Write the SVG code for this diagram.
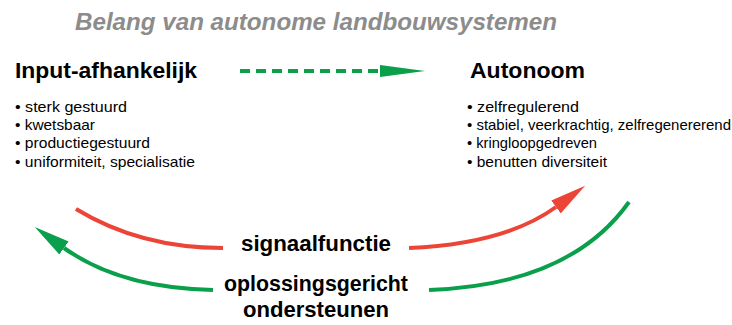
<svg xmlns="http://www.w3.org/2000/svg" width="732" height="325" viewBox="0 0 732 325">
<defs>
<style>
.title{font-family:"Liberation Sans",Arial,sans-serif;font-weight:bold;font-style:italic;font-size:23px;fill:#8c8c8c}
.head{font-family:"Liberation Sans",Arial,sans-serif;font-weight:bold;font-size:21.5px;fill:#000}
.item{font-family:"Liberation Sans",Arial,sans-serif;font-size:14.5px;fill:#000}
.lbl{font-family:"Liberation Sans",Arial,sans-serif;font-weight:bold;font-size:22px;fill:#000;text-anchor:middle}
.red{fill:none;stroke:#ec4437;stroke-width:4}
.green{fill:none;stroke:#0aa04b;stroke-width:4}
</style>
<marker id="ahRed" markerUnits="userSpaceOnUse" markerWidth="40" markerHeight="20" refX="0" refY="8" orient="auto">
<path d="M0,0 L36,8 L0,16 Z" fill="#ec4437"/>
</marker>
<marker id="ahGreen" markerUnits="userSpaceOnUse" markerWidth="40" markerHeight="20" refX="0" refY="8" orient="auto">
<path d="M0,0 L36,8 L0,16 Z" fill="#0aa04b"/>
</marker>
</defs>
<text class="title" x="75" y="30" textLength="482" lengthAdjust="spacingAndGlyphs">Belang van autonome landbouwsystemen</text>
<g id="input">
<text class="head" x="15" y="78" textLength="182" lengthAdjust="spacingAndGlyphs">Input-afhankelijk</text>
<text class="item" x="15" y="112" textLength="112" lengthAdjust="spacingAndGlyphs">• sterk gestuurd</text>
<text class="item" x="15" y="130" textLength="80" lengthAdjust="spacingAndGlyphs">• kwetsbaar</text>
<text class="item" x="15" y="148" textLength="135" lengthAdjust="spacingAndGlyphs">• productiegestuurd</text>
<text class="item" x="15" y="167" textLength="180" lengthAdjust="spacingAndGlyphs">• uniformiteit, specialisatie</text>
</g>
<g id="autonoom">
<text class="head" x="470" y="78" textLength="115" lengthAdjust="spacingAndGlyphs">Autonoom</text>
<text class="item" x="467" y="112" textLength="112" lengthAdjust="spacingAndGlyphs">• zelfregulerend</text>
<text class="item" x="467" y="130" textLength="264" lengthAdjust="spacingAndGlyphs">• stabiel, veerkrachtig, zelfregenererend</text>
<text class="item" x="467" y="148" textLength="130" lengthAdjust="spacingAndGlyphs">• kringloopgedreven</text>
<text class="item" x="467" y="167" textLength="140" lengthAdjust="spacingAndGlyphs">• benutten diversiteit</text>
</g>
<g id="signaalfunctie">
<text class="lbl" x="316" y="251" textLength="150" lengthAdjust="spacingAndGlyphs">signaalfunctie</text>
</g>
<g id="oplossingsgericht">
<text class="lbl" x="316" y="291" textLength="184" lengthAdjust="spacingAndGlyphs">oplossingsgericht</text>
<text class="lbl" x="316" y="317" textLength="146" lengthAdjust="spacingAndGlyphs">ondersteunen</text>
</g>
<g id="connectors">
<line x1="240" y1="71" x2="382" y2="71" stroke="#0aa04b" stroke-width="4" stroke-dasharray="10 6"/>
<path d="M380,65 L425,71 L380,77 Z" fill="#0aa04b"/>
<path class="red" d="M76,209 Q140,248 223,248"/>
<path class="red" d="M409,248 Q505,244 556,207" marker-end="url(#ahRed)"/>
<path class="green" d="M213,290 Q120,288 64,248" marker-end="url(#ahGreen)"/>
<path class="green" d="M429,290 Q570,285 629,202"/>
</g>
</svg>
